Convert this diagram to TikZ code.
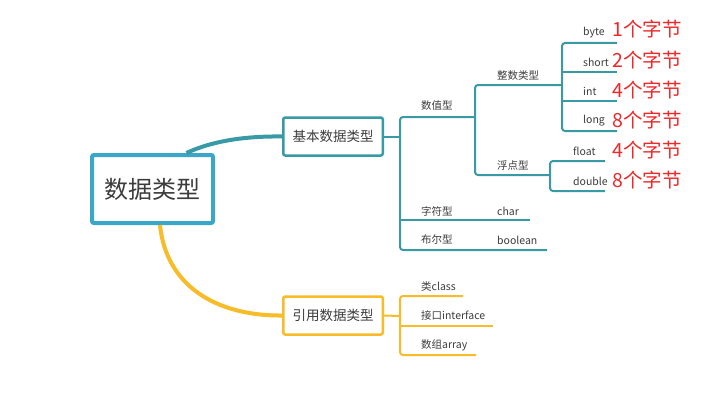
\documentclass[tikz,border=0pt]{standalone}
\usepackage{fontspec}
\setmainfont{Noto Sans CJK SC}
\definecolor{rootc}{RGB}{58,166,200}
\definecolor{tealc}{RGB}{56,154,165}
\definecolor{yelc}{RGB}{247,188,40}
\definecolor{redc}{RGB}{238,40,40}
\definecolor{txtc}{RGB}{60,60,60}
\begin{document}
\begin{tikzpicture}[x=1pt,y=-1pt,
 lbl/.style={anchor=west,inner sep=0pt,font=\fontsize{10.5}{12}\selectfont,text=txtc},
 redtxt/.style={anchor=west,inner sep=0pt,font=\fontsize{19.5}{22}\selectfont,text=redc},
 tl/.style={draw=tealc,line width=2pt,rounded corners=3pt},
 yl/.style={draw=yelc,line width=2pt,rounded corners=3pt},
 subbox/.style={line width=2.5pt,rounded corners=2pt,minimum width=99.5pt,minimum height=38pt,font=\fontsize{13.5}{16}\selectfont,text=txtc,fill=white}]
\useasboundingbox[fill=white] (0,0) rectangle (712,404);
% root and main boxes
\node[draw=rootc,line width=4pt,rounded corners=2pt,minimum width=121pt,minimum height=68pt,font=\fontsize{24}{28}\selectfont,text=txtc] (root) at (152.5,189) {数据类型};
\node[subbox,draw=tealc] (jb) at (333,136.5) {基本数据类型};
\node[subbox,draw=yelc] (yy) at (333,315.5) {引用数据类型};
% main curves
\draw[tealc,line width=4pt] ([xshift=34pt]root.north) .. controls (212,141) and (245,136) .. (jb.west);
\draw[yelc,line width=4pt] ([xshift=7.5pt]root.south) .. controls (166,285) and (215,316) .. (yy.west);
% coordinates
\coordinate (ta) at (400,136.5);
\coordinate (sz1) at (475,117); \coordinate (sz0) at (400,117);
\coordinate (bo0) at (400,250); \coordinate (bo1) at (547,250);
\coordinate (ch0) at (400,220); \coordinate (ch1) at (530,220);
\coordinate (zs1) at (562,85); \coordinate (zs0) at (475,85);
\coordinate (fd0) at (475,175); \coordinate (fd1) at (550,175);
\coordinate (by1) at (617,43); \coordinate (by0) at (562,43);
\coordinate (lo0) at (562,131); \coordinate (lo1) at (617,131);
\coordinate (sh0) at (562,72); \coordinate (sh1) at (617,72);
\coordinate (in0) at (562,101); \coordinate (in1) at (617,101);
\coordinate (fl1) at (605,161); \coordinate (fl0) at (550,161);
\coordinate (db0) at (550,191); \coordinate (db1) at (605,191);
\coordinate (ya) at (400,316);
\coordinate (cl1) at (463,296); \coordinate (cl0) at (400,296);
\coordinate (ar0) at (400,355); \coordinate (ar1) at (476,355);
\coordinate (if0) at (400,326); \coordinate (if1) at (493,326);
% teal tree
\draw[tl] (jb.east) -- (ta);
\draw[tl] (sz1) -- (sz0) -- (bo0) -- (bo1);
\draw[tl] (ch0) -- (ch1);
\draw[tl] (zs1) -- (zs0) -- (fd0) -- (fd1);
\draw[tl] (by1) -- (by0) -- (lo0) -- (lo1);
\draw[tl] (sh0) -- (sh1);
\draw[tl] (in0) -- (in1);
\draw[tl] (fl1) -- (fl0) -- (db0) -- (db1);
% yellow tree
\draw[yl] (yy.east) -- (ya);
\draw[yl] (cl1) -- (cl0) -- (ar0) -- (ar1);
\draw[yl] (if0) -- (if1);
% labels
\node[lbl] (lsz) at (421,106) {数值型};
\node[lbl] (lzs) at (497,76) {整数类型};
\node[lbl] (lfd) at (497,166) {浮点型};
\node[lbl] (lby) at (583,33) {byte};
\node[lbl] (lsh) at (583,62) {short};
\node[lbl] (lin) at (583,91) {int};
\node[lbl] (llo) at (583,121) {long};
\node[lbl] (lfl) at (573,151) {float};
\node[lbl] (ldb) at (573,181) {double};
\node[lbl] (lzf) at (421,211) {字符型};
\node[lbl] (lch) at (497,211) {char};
\node[lbl] (lbe) at (421,240) {布尔型};
\node[lbl] (lbo) at (497,240) {boolean};
\node[lbl] (lcl) at (421,287) {类class};
\node[lbl] (lif) at (421,316) {接口interface};
\node[lbl] (lar) at (421,345) {数组array};
% red notes
\node[redtxt] (r1) at (612,29) {1个字节};
\node[redtxt] (r2) at (612,60) {2个字节};
\node[redtxt] (r3) at (612,90) {4个字节};
\node[redtxt] (r4) at (612,120) {8个字节};
\node[redtxt] (r5) at (612,150) {4个字节};
\node[redtxt] (r6) at (612,180) {8个字节};
\end{tikzpicture}
\end{document}
